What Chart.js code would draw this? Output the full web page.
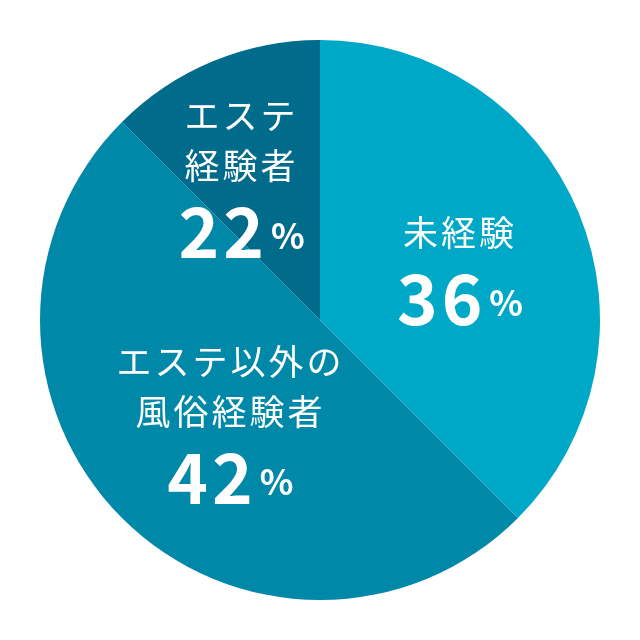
<!DOCTYPE html>
<html>
<head>
<meta charset="utf-8">
<script src="https://cdn.jsdelivr.net/npm/chart.js@4"></script>
<style>
  html, body { margin: 0; padding: 0; background: #fff; }
  #wrap { width: 640px; height: 640px; }
</style>
</head>
<body>
<div id="wrap"><canvas id="pie" width="640" height="640"></canvas></div>
<script>
// slices, clockwise from 12 o'clock
const categories = ['未経験', 'エステ以外の風俗経験者', 'エステ経験者'];
const sliceValues = [37.5, 50, 12.5]; // angles as drawn in the picture
const percentLabels = ['36', '42', '22']; // printed figures
const labelLines = [['未経験'], ['エステ以外の', '風俗経験者'], ['エステ', '経験者']];
const sliceColors = ['#00a8c8', '#0088a8', '#006b8b'];

// label anchor (fraction of radius from center) per slice
const anchors = [[0.50, -0.31], [-0.32, 0.15], [-0.28, -0.73]];

const FONT = '"Noto Sans CJK JP", "Noto Sans", sans-serif';

const labelPlugin = {
  id: 'sliceLabels',
  afterDraw(chart) {
    const ctx = chart.ctx;
    const arc = chart.getDatasetMeta(0).data[0];
    const cx = arc.x, cy = arc.y, r = arc.outerRadius;
    ctx.save();
    ctx.fillStyle = '#fff';
    ctx.textBaseline = 'middle';
    labelLines.forEach((lines, i) => {
      const ax = cx + anchors[i][0] * r;
      let y = cy + anchors[i][1] * r;
      ctx.font = '400 35px ' + FONT;
      ctx.textAlign = 'center';
      ctx.letterSpacing = '3px';
      lines.forEach(t => {
        ctx.fillText(t, ax, y);
        y += 50;
      });
      y += 16;
      // big number + small %
      ctx.letterSpacing = '4px';
      ctx.font = '700 69px ' + FONT;
      const numW = ctx.measureText(percentLabels[i]).width;
      ctx.letterSpacing = '0px';
      ctx.font = '600 35px ' + FONT;
      const pW = ctx.measureText('%').width;
      const x0 = ax - (numW + 3 + pW) / 2;
      ctx.textAlign = 'left';
      ctx.letterSpacing = '4px';
      ctx.font = '700 69px ' + FONT;
      ctx.fillText(percentLabels[i], x0, y);
      ctx.letterSpacing = '0px';
      ctx.font = '600 35px ' + FONT;
      ctx.fillText('%', x0 + numW + 3, y + 4);
    });
    ctx.restore();
  }
};

new Chart(document.getElementById('pie'), {
  type: 'pie',
  data: {
    labels: categories,
    datasets: [{
      data: sliceValues,
      backgroundColor: sliceColors,
      borderWidth: 0
    }]
  },
  options: {
    responsive: false,
    animation: false,
    layout: { padding: 40 },
    plugins: {
      legend: { display: false },
      tooltip: { enabled: false }
    }
  },
  plugins: [labelPlugin]
});
</script>
</body>
</html>
